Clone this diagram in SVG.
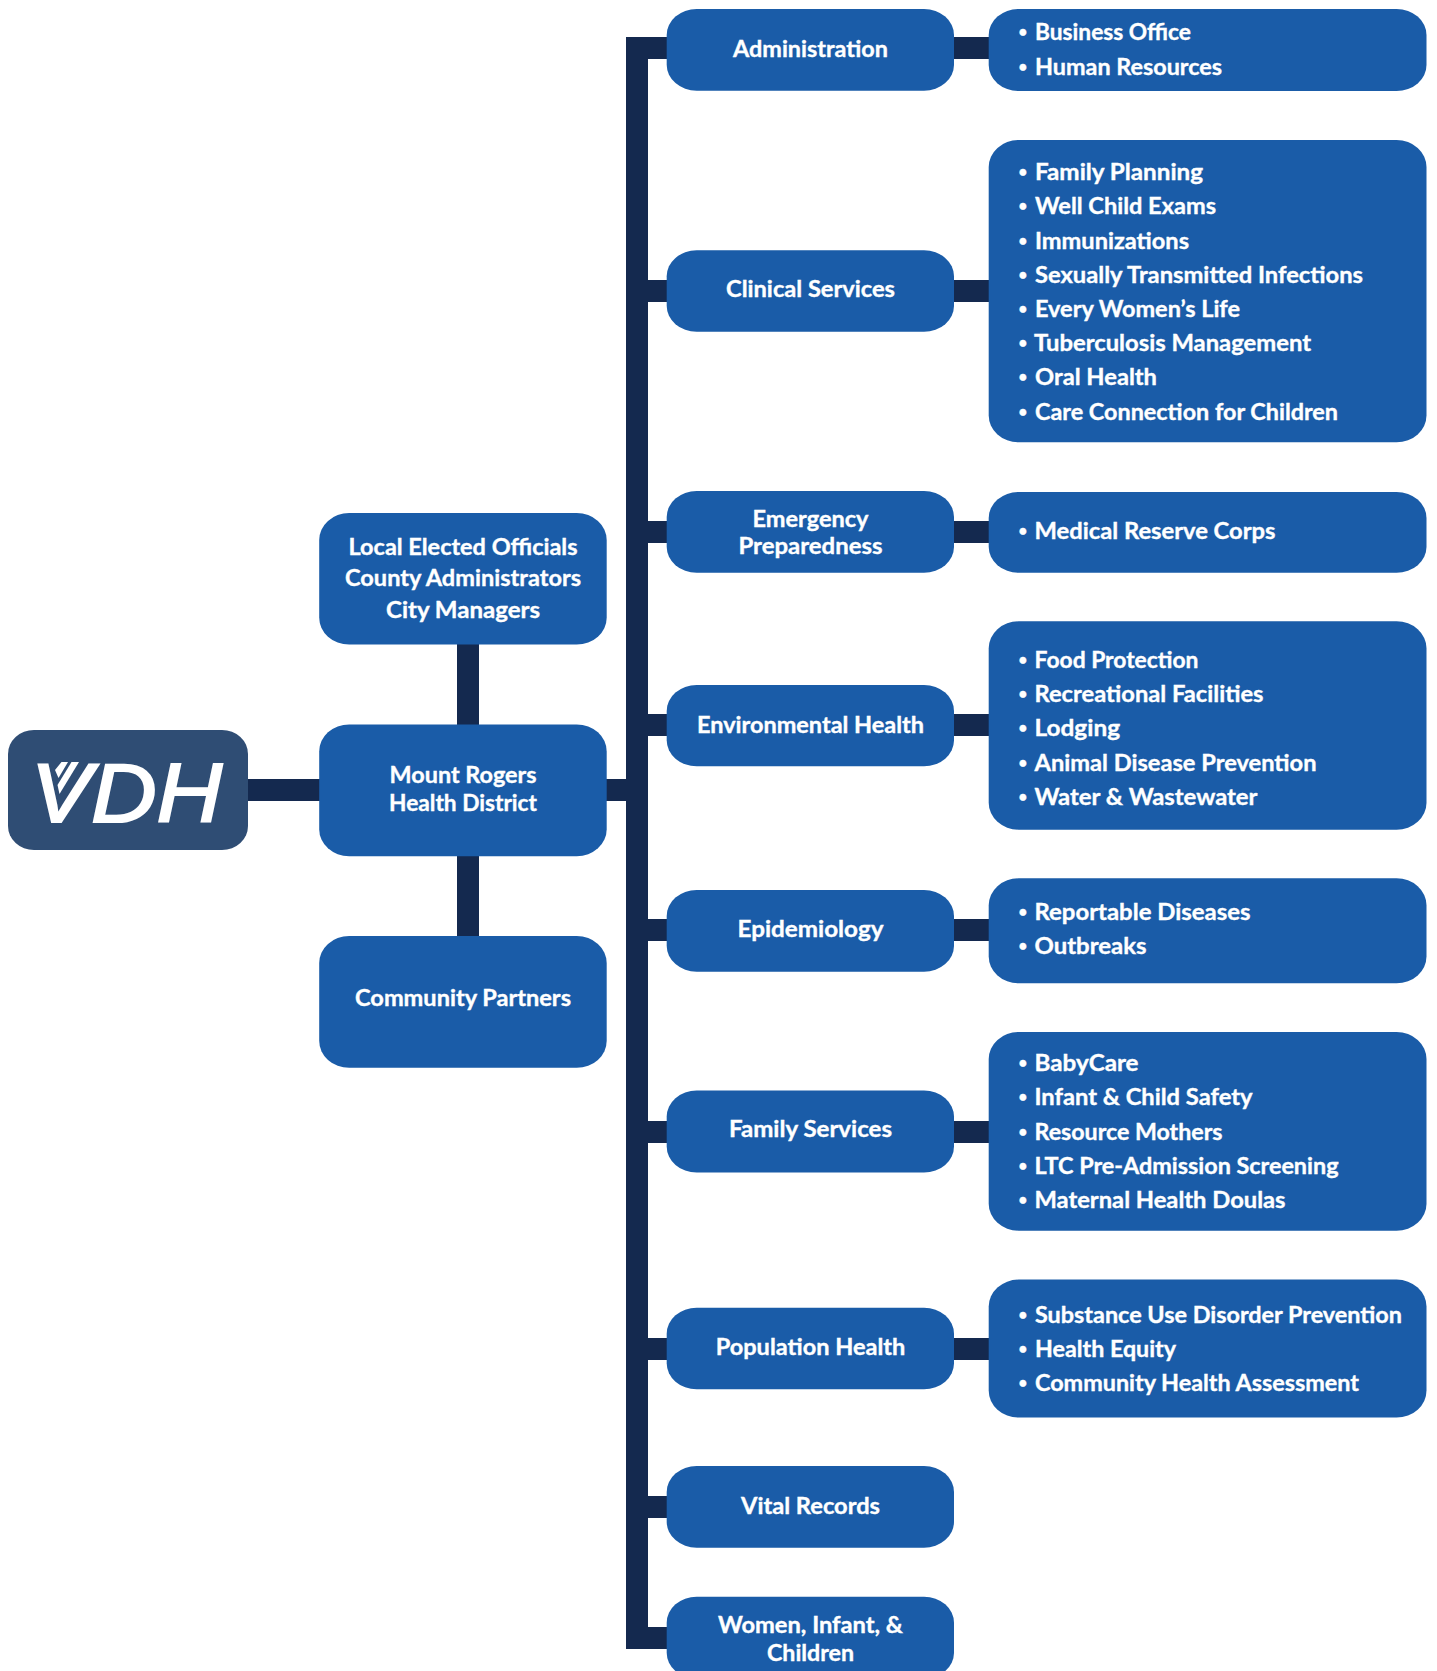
<svg xmlns="http://www.w3.org/2000/svg" width="1437" height="1671" viewBox="0 0 1437 1671">
<style>
text{font-family:"Lato","Noto Sans",sans-serif;font-weight:700;font-size:22px;fill:#fff;stroke:#fff;stroke-width:.35px;transform:translateY(.6px)}
.c{text-anchor:middle}
.box{fill:#1a5ca8}
.conn{fill:#14294f}
.d{font-size:15px}
text.logo{font-family:"Liberation Sans",sans-serif;font-style:italic;font-weight:400;font-size:84px;stroke-width:2.2px;transform:none}
</style>
<rect width="1437" height="1671" fill="#fff"/>
<g id="connectors">
<rect class="conn" x="248" y="779" width="72" height="22"/>
<rect class="conn" x="457" y="644" width="22" height="81"/>
<rect class="conn" x="457" y="855" width="22" height="81"/>
<rect class="conn" x="606" y="779" width="20" height="22"/>
<rect class="conn" x="626" y="37" width="22" height="1612"/>
<rect class="conn" x="648" y="37" width="20" height="22"/>
<rect class="conn" x="648" y="280" width="20" height="22"/>
<rect class="conn" x="648" y="521" width="20" height="22"/>
<rect class="conn" x="648" y="714" width="20" height="22"/>
<rect class="conn" x="648" y="919" width="20" height="22"/>
<rect class="conn" x="648" y="1121" width="20" height="22"/>
<rect class="conn" x="648" y="1338" width="20" height="22"/>
<rect class="conn" x="648" y="1496" width="20" height="22"/>
<rect class="conn" x="648" y="1627" width="20" height="22"/>
<rect class="conn" x="953" y="37" width="37" height="22"/>
<rect class="conn" x="953" y="280" width="37" height="22"/>
<rect class="conn" x="953" y="521" width="37" height="22"/>
<rect class="conn" x="953" y="714" width="37" height="22"/>
<rect class="conn" x="953" y="919" width="37" height="22"/>
<rect class="conn" x="953" y="1121" width="37" height="22"/>
<rect class="conn" x="953" y="1338" width="37" height="22"/>
</g>
<g id="logo">
<rect x="8" y="730" width="240" height="120" rx="26" ry="24" fill="#2f4d74"/>
<text class="logo" x="31" y="822" textLength="191" lengthAdjust="spacingAndGlyphs">VDH</text>
<polygon points="61.5,762 68,762 58.5,778 55,770" fill="#fff"/>
<polygon points="71.5,762 79,762 59.5,794 57.5,785" fill="#fff"/>
</g>
<g id="local-officials">
<rect class="box" x="319.2" y="513" width="287.5" height="131.6" rx="30" ry="27"/>
<text class="c" x="463" y="554" textLength="229" lengthAdjust="spacingAndGlyphs">Local Elected Officials</text>
<text class="c" x="463" y="585.6" textLength="236" lengthAdjust="spacingAndGlyphs">County Administrators</text>
<text class="c" x="463" y="617.2" textLength="154" lengthAdjust="spacingAndGlyphs">City Managers</text>
</g>
<g id="mount-rogers">
<rect class="box" x="319.2" y="724.4" width="287.5" height="131.8" rx="30" ry="27"/>
<text class="c" x="463" y="782.5" textLength="147" lengthAdjust="spacingAndGlyphs">Mount Rogers</text>
<text class="c" x="463" y="810" textLength="148" lengthAdjust="spacingAndGlyphs">Health District</text>
</g>
<g id="community-partners">
<rect class="box" x="319.2" y="936" width="287.5" height="131.8" rx="30" ry="27"/>
<text class="c" x="463" y="1005" textLength="216" lengthAdjust="spacingAndGlyphs">Community Partners</text>
</g>
<g id="administration">
<rect class="box" x="666.7" y="9" width="287.3" height="81.7" rx="30" ry="26"/>
<text class="c" x="810.5" y="56" textLength="155" lengthAdjust="spacingAndGlyphs">Administration</text>
</g>
<g id="administration-list">
<rect class="box" x="988.7" y="9" width="437.8" height="82" rx="30" ry="26"/>
<text y="39"><tspan class="d" x="1018.6" dy="-3">•</tspan><tspan x="1035" dy="3" textLength="156" lengthAdjust="spacingAndGlyphs">Business Office</tspan></text>
<text y="74"><tspan class="d" x="1018.6" dy="-3">•</tspan><tspan x="1035" dy="3" textLength="187" lengthAdjust="spacingAndGlyphs">Human Resources</tspan></text>
</g>
<g id="clinical-services">
<rect class="box" x="666.7" y="250.3" width="287.3" height="81.5" rx="30" ry="26"/>
<text class="c" x="810.5" y="296.7" textLength="169" lengthAdjust="spacingAndGlyphs">Clinical Services</text>
</g>
<g id="clinical-list">
<rect class="box" x="988.7" y="140" width="437.8" height="302.3" rx="30" ry="27"/>
<text y="179.3"><tspan class="d" x="1018.6" dy="-3">•</tspan><tspan x="1035" dy="3" textLength="168" lengthAdjust="spacingAndGlyphs">Family Planning</tspan></text>
<text y="213.3"><tspan class="d" x="1018.6" dy="-3">•</tspan><tspan x="1035" dy="3" textLength="181" lengthAdjust="spacingAndGlyphs">Well Child Exams</tspan></text>
<text y="248"><tspan class="d" x="1018.6" dy="-3">•</tspan><tspan x="1035" dy="3" textLength="154" lengthAdjust="spacingAndGlyphs">Immunizations</tspan></text>
<text y="282.5"><tspan class="d" x="1018.6" dy="-3">•</tspan><tspan x="1035" dy="3" textLength="328" lengthAdjust="spacingAndGlyphs">Sexually Transmitted Infections</tspan></text>
<text y="316"><tspan class="d" x="1018.6" dy="-3">•</tspan><tspan x="1035" dy="3" textLength="205" lengthAdjust="spacingAndGlyphs">Every Women’s Life</tspan></text>
<text y="350"><tspan class="d" x="1018.6" dy="-3">•</tspan><tspan x="1034" dy="3" textLength="277" lengthAdjust="spacingAndGlyphs">Tuberculosis Management</tspan></text>
<text y="384"><tspan class="d" x="1018.6" dy="-3">•</tspan><tspan x="1035" dy="3" textLength="122" lengthAdjust="spacingAndGlyphs">Oral Health</tspan></text>
<text y="419"><tspan class="d" x="1018.6" dy="-3">•</tspan><tspan x="1035" dy="3" textLength="303" lengthAdjust="spacingAndGlyphs">Care Connection for Children</tspan></text>
</g>
<g id="emergency-preparedness">
<rect class="box" x="666.7" y="491" width="287.3" height="81.8" rx="30" ry="26"/>
<text class="c" x="810.5" y="526" textLength="116" lengthAdjust="spacingAndGlyphs">Emergency</text>
<text class="c" x="810.5" y="553.7" textLength="144" lengthAdjust="spacingAndGlyphs">Preparedness</text>
</g>
<g id="emergency-list">
<rect class="box" x="988.7" y="492" width="437.8" height="80.8" rx="30" ry="26"/>
<text y="538.3"><tspan class="d" x="1018.6" dy="-3">•</tspan><tspan x="1034.5" dy="3" textLength="241" lengthAdjust="spacingAndGlyphs">Medical Reserve Corps</tspan></text>
</g>
<g id="environmental-health">
<rect class="box" x="666.7" y="685" width="287.3" height="81.3" rx="30" ry="26"/>
<text class="c" x="810.5" y="732.3" textLength="227" lengthAdjust="spacingAndGlyphs">Environmental Health</text>
</g>
<g id="environmental-list">
<rect class="box" x="988.7" y="621.3" width="437.8" height="208.4" rx="30" ry="27"/>
<text y="667.3"><tspan class="d" x="1018.6" dy="-3">•</tspan><tspan x="1034.5" dy="3" textLength="164" lengthAdjust="spacingAndGlyphs">Food Protection</tspan></text>
<text y="701"><tspan class="d" x="1018.6" dy="-3">•</tspan><tspan x="1034.5" dy="3" textLength="229" lengthAdjust="spacingAndGlyphs">Recreational Facilities</tspan></text>
<text y="735.3"><tspan class="d" x="1018.6" dy="-3">•</tspan><tspan x="1034.5" dy="3" textLength="85.5" lengthAdjust="spacingAndGlyphs">Lodging</tspan></text>
<text y="770"><tspan class="d" x="1018.6" dy="-3">•</tspan><tspan x="1034.5" dy="3" textLength="282" lengthAdjust="spacingAndGlyphs">Animal Disease Prevention</tspan></text>
<text y="804"><tspan class="d" x="1018.6" dy="-3">•</tspan><tspan x="1034.5" dy="3" textLength="223" lengthAdjust="spacingAndGlyphs">Water &amp; Wastewater</tspan></text>
</g>
<g id="epidemiology">
<rect class="box" x="666.7" y="890" width="287.3" height="81.7" rx="30" ry="26"/>
<text class="c" x="810.5" y="936.7" textLength="146" lengthAdjust="spacingAndGlyphs">Epidemiology</text>
</g>
<g id="epidemiology-list">
<rect class="box" x="988.7" y="878.3" width="437.8" height="105" rx="30" ry="27"/>
<text y="919.3"><tspan class="d" x="1018.6" dy="-3">•</tspan><tspan x="1034.5" dy="3" textLength="216" lengthAdjust="spacingAndGlyphs">Reportable Diseases</tspan></text>
<text y="953"><tspan class="d" x="1018.6" dy="-3">•</tspan><tspan x="1034.5" dy="3" textLength="112" lengthAdjust="spacingAndGlyphs">Outbreaks</tspan></text>
</g>
<g id="family-services">
<rect class="box" x="666.7" y="1090.6" width="287.3" height="82" rx="30" ry="26"/>
<text class="c" x="810.5" y="1136.7" textLength="163" lengthAdjust="spacingAndGlyphs">Family Services</text>
</g>
<g id="family-list">
<rect class="box" x="988.7" y="1032" width="437.8" height="198.7" rx="30" ry="27"/>
<text y="1070.7"><tspan class="d" x="1018.6" dy="-3">•</tspan><tspan x="1034.5" dy="3" textLength="104" lengthAdjust="spacingAndGlyphs">BabyCare</tspan></text>
<text y="1104.7"><tspan class="d" x="1018.6" dy="-3">•</tspan><tspan x="1034.5" dy="3" textLength="218" lengthAdjust="spacingAndGlyphs">Infant &amp; Child Safety</tspan></text>
<text y="1139"><tspan class="d" x="1018.6" dy="-3">•</tspan><tspan x="1034.5" dy="3" textLength="188" lengthAdjust="spacingAndGlyphs">Resource Mothers</tspan></text>
<text y="1173.3"><tspan class="d" x="1018.6" dy="-3">•</tspan><tspan x="1034.5" dy="3" textLength="304" lengthAdjust="spacingAndGlyphs">LTC Pre-Admission Screening</tspan></text>
<text y="1207.7"><tspan class="d" x="1018.6" dy="-3">•</tspan><tspan x="1034.5" dy="3" textLength="251" lengthAdjust="spacingAndGlyphs">Maternal Health Doulas</tspan></text>
</g>
<g id="population-health">
<rect class="box" x="666.7" y="1307.7" width="287.3" height="81.6" rx="30" ry="26"/>
<text class="c" x="810.5" y="1354.3" textLength="189.5" lengthAdjust="spacingAndGlyphs">Population Health</text>
</g>
<g id="population-list">
<rect class="box" x="988.7" y="1279.6" width="437.8" height="138" rx="30" ry="27"/>
<text y="1322"><tspan class="d" x="1018.6" dy="-3">•</tspan><tspan x="1035" dy="3" textLength="367" lengthAdjust="spacingAndGlyphs">Substance Use Disorder Prevention</tspan></text>
<text y="1356.3"><tspan class="d" x="1018.6" dy="-3">•</tspan><tspan x="1035" dy="3" textLength="141" lengthAdjust="spacingAndGlyphs">Health Equity</tspan></text>
<text y="1390.3"><tspan class="d" x="1018.6" dy="-3">•</tspan><tspan x="1035" dy="3" textLength="324" lengthAdjust="spacingAndGlyphs">Community Health Assessment</tspan></text>
</g>
<g id="vital-records">
<rect class="box" x="666.7" y="1466" width="287.3" height="81.7" rx="30" ry="26"/>
<text class="c" x="810.5" y="1513.3" textLength="139" lengthAdjust="spacingAndGlyphs">Vital Records</text>
</g>
<g id="women-infant-children">
<rect class="box" x="666.7" y="1596.7" width="287.3" height="82" rx="30" ry="26"/>
<text class="c" x="810.5" y="1632.3" textLength="185" lengthAdjust="spacingAndGlyphs">Women, Infant, &amp;</text>
<text class="c" x="810.5" y="1660" textLength="87" lengthAdjust="spacingAndGlyphs">Children</text>
</g>
</svg>
